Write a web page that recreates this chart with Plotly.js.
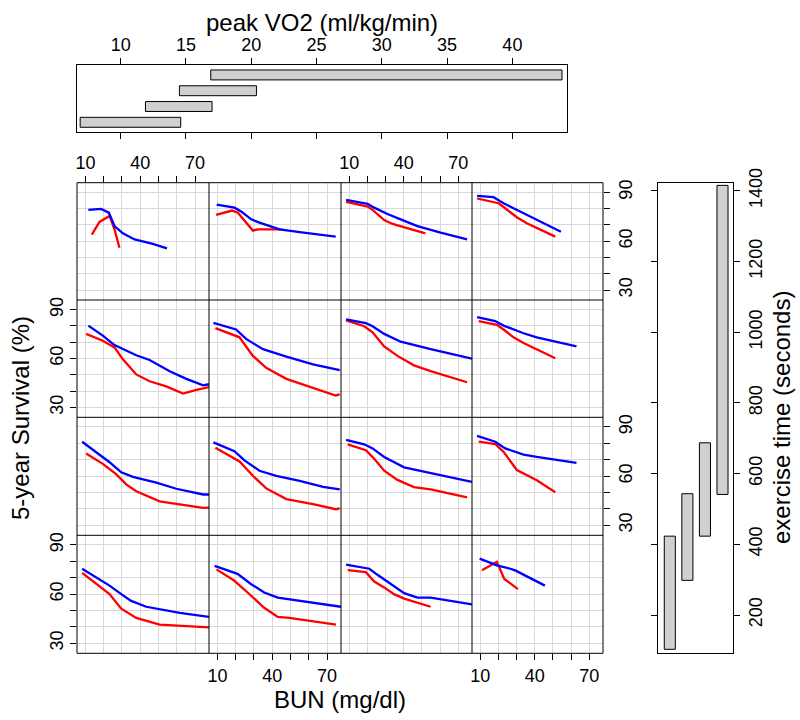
<!DOCTYPE html>
<html><head><meta charset="utf-8">
<script src="https://cdn.plot.ly/plotly-3.0.1.min.js"></script>
<style>html,body{margin:0;padding:0;background:#fff}</style>
</head><body><div id="chart" style="width:800px;height:720px"></div>
<script>
// ---- data: BUN (x) vs 5-year survival (y), panels by row (top=1) and column (left=1)
const r1c1Blue = [[11.6,79.2],[18.6,79.8],[22.8,77.5],[25.9,69.3],[30.5,64.8],[36.9,61.1],[46.9,58.3],[54.6,55.6]];
const r1c1Red  = [[13.5,64],[17.7,71.8],[23.2,75.5],[26,67],[28.6,56]];
const r1c2Blue = [[9.6,82.5],[19.3,80.6],[23,78.2],[28.5,73.4],[33,71.4],[44,67.3],[55,65.6],[74.7,62.8]];
const r1c2Red  = [[9.3,76.1],[18,78.8],[21.2,77.5],[29.4,66.5],[32.1,67.3],[45,67.3]];
const r1c3Blue = [[8.2,85.3],[20.1,82.9],[23.7,80.6],[31,76.7],[38.3,73.4],[47.5,69.3],[60.3,65.2],[74.9,61.1]];
const r1c3Red  = [[8.2,84.1],[20.1,81.2],[22.8,79.2],[29.2,73],[33.8,70.6],[40.2,68.5],[51.9,64.8]];
const r1c4Blue = [[8.2,87.8],[17.3,87],[22.8,83.3],[30.1,79.2],[41.1,73],[54.4,65.8]];
const r1c4Red  = [[8.2,86.2],[20.1,83.3],[23.7,80.2],[30.1,74.7],[35.6,71],[51.3,62.8]];

const r2c1Blue = [[11.6,80.2],[19.5,74],[25.9,68.2],[30.5,65.7],[37.8,62],[45.1,59.1],[56.1,52.2],[65.2,47.5],[74.4,43.5],[77.6,44.2]];
const r2c1Red  = [[10.4,75.1],[19.5,70.9],[25.9,66.8],[30.5,59.5],[37.8,50.2],[45.1,46],[54.2,42.9],[63.4,38.5],[70.7,40.8],[77.6,42.5]];
const r2c2Blue = [[7.8,81.9],[20.2,77.8],[25.7,72],[34.9,65.7],[47.7,61.2],[62.3,56.4],[76.9,52.9]];
const r2c2Red  = [[8.9,78.6],[22.1,73],[29.4,61.6],[36.7,54.3],[47.7,47.5],[62.3,41.9],[74.7,37.3],[76.9,37.9]];
const r2c3Blue = [[8.2,84],[19.1,81.7],[22.8,79.8],[29.2,75.1],[38.3,70.3],[54.8,65.7],[77.6,59.9]];
const r2c3Red  = [[8.2,83.4],[18.2,79.8],[22.8,76.1],[29.2,67.4],[36.5,61.6],[45.6,55.8],[54.8,52.2],[74.9,45.4]];
const r2c4Blue = [[8.2,85.4],[18.2,82.9],[22.8,80.2],[33.8,75.5],[41.1,73],[63,67.4]];
const r2c4Red  = [[9.1,82.9],[19.1,80.7],[22.8,77.8],[28.3,73],[33.8,69.5],[41.1,65.7],[51.3,60.1]];

const r3c1Blue = [[8.2,81],[15.9,74.8],[23.2,68.5],[29.6,62.3],[36,59.6],[48.8,56],[59.7,52.3],[74.4,48.8],[77.6,48.8]];
const r3c1Red  = [[10.4,73.75],[19.5,67.5],[26.8,61.25],[32.3,55],[37.8,50.8],[50.6,44.6],[63.4,42.5],[74.4,40.6],[77.6,40.8]];
const r3c2Blue = [[7.8,80.6],[19.3,75.2],[24.8,69.6],[33,63.3],[42.2,60.2],[55,57.1],[67.8,53.5],[76.9,51.9]];
const r3c2Red  = [[8.9,77.3],[22.1,69],[29.4,60.2],[36.7,52.5],[47.7,46],[62.3,42.9],[74.7,39.8],[76.9,40.4]];
const r3c3Blue = [[8.2,82.1],[18.2,79.4],[22.8,76.9],[29.2,71.7],[40.2,65.4],[54.8,61.9],[77.6,56.5]];
const r3c3Red  = [[9.1,79.4],[19.1,75.8],[23.7,70.6],[29.2,63.3],[36.5,57.7],[45.6,53.3],[54.8,51.9],[74.9,47.1]];
const r3c4Blue = [[8.2,84.6],[18.2,81],[23.7,76.9],[33.8,73.1],[41.1,71.7],[63,68.1]];
const r3c4Red  = [[9.1,81],[18.2,79.6],[22.8,74.8],[30.1,63.75],[41.1,57.5],[51.3,50.2]];

const r4c1Blue = [[8.2,75.5],[14.9,71],[23.2,65.2],[29.6,60],[35,55.9],[43.3,52.3],[50.6,50.7],[61.6,48.6],[77.6,46.1]];
const r4c1Red  = [[8.2,73],[14.9,67.2],[23.2,60],[29.6,51.1],[37.8,45.5],[50.6,41.4],[61.6,40.8],[77.6,39.7]];
const r4c2Blue = [[8.5,77.2],[21,72.4],[28.3,66.2],[35.6,61],[43,57.9],[52,56.5],[63,54.4],[77.6,52.3]];
const r4c2Red  = [[9.5,75.1],[19.1,68.3],[26.5,61],[35.6,51.7],[43,46.1],[49.3,45.5],[74.9,41.4]];
const r4c3Blue = [[8.2,78],[21,75.5],[25.5,71.8],[32.9,66.2],[40.2,60.6],[47.5,57.9],[54.8,57.9],[65.8,55.9],[77.6,53.8]];
const r4c3Red  = [[9.1,74.7],[19.1,73.4],[23.7,67.7],[29.2,64.1],[34.6,60],[40.2,57.3],[54.8,52.3]];
const r4c4Blue = [[9.6,81.7],[19.1,77.6],[26.5,75.5],[29.2,74.5],[45.6,65.2]];
const r4c4Red  = [[10.9,74.5],[19.1,79.7],[23.2,69.3],[30.7,63.1]];

// axis ticks
const bunTicks = [10,20,30,40,50,60,70];
const bunTickText = ['10','','','40','','','70'];
const survTicks = [30,40,50,60,70,80,90];
const survTickText = ['30','','','60','','','90'];

// shingle intervals
const vo2Level = [1,2,3,4];
const vo2Low  = [6.9, 11.9, 14.5, 16.9];
const vo2High = [14.6, 17.0, 20.4, 43.8];
const vo2Ticks = [10,15,20,25,30,35,40];
const exLevel = [1,2,3,4];
const exLow  = [103, 298, 423, 541];
const exHigh = [423, 543, 687, 1415];
const exTicks = [200,400,600,800,1000,1200,1400];

// ---- layout
const W = 800, H = 720;
const colLeft = [77,209,341,472,603];
const rowTop = [182.7,300,417.3,535.3,653.3];
const FONT = 'Liberation Sans, Arial, sans-serif';
const panels = [
  [r1c1Blue,r1c1Red],[r1c2Blue,r1c2Red],[r1c3Blue,r1c3Red],[r1c4Blue,r1c4Red],
  [r2c1Blue,r2c1Red],[r2c2Blue,r2c2Red],[r2c3Blue,r2c3Red],[r2c4Blue,r2c4Red],
  [r3c1Blue,r3c1Red],[r3c2Blue,r3c2Red],[r3c3Blue,r3c3Red],[r3c4Blue,r3c4Red],
  [r4c1Blue,r4c1Red],[r4c2Blue,r4c2Red],[r4c3Blue,r4c3Red],[r4c4Blue,r4c4Red]
];

const traces = [];
const layout = {
  width: W, height: H, margin: {l:0,r:0,t:0,b:0},
  paper_bgcolor: '#fff', plot_bgcolor: '#fff', showlegend: false,
  font: {family: FONT, size: 18, color: '#000'},
  annotations: [], shapes: []
};
function key(a, i){ return i===1 ? a+'axis' : a+'axis'+i; }
function ref(a, i){ return i===1 ? a : a+i; }

for (let r=0; r<4; r++) {
  for (let c=0; c<4; c++) {
    const i = r*4+c+1;
    const [blue, red] = panels[i-1];
    [[red,'rgb(255,0,0)'],[blue,'rgb(0,0,255)']].forEach(([pts,col]) => {
      traces.push({type:'scatter', mode:'lines', x: pts.map(p=>p[0]), y: pts.map(p=>p[1]),
        xaxis: ref('x',i), yaxis: ref('y',i), line:{color:col, width:2.3}, hoverinfo:'skip'});
    });
    const xEdge = (c%2===0 && r===0) || (c%2===1 && r===3);
    const yEdge = (r%2===0 && c===3) || (r%2===1 && c===0);
    layout[key('x',i)] = {
      domain:[colLeft[c]/W, colLeft[c+1]/W], anchor: ref('y',i), range:[5.4,77.6],
      tickmode:'array', tickvals: bunTicks, ticktext: bunTickText,
      showgrid:true, gridcolor:'#d9d9d9', gridwidth:1, zeroline:false,
      showline:false,
      ticks: xEdge ? 'outside' : '', ticklen:6, tickcolor:'#000', tickwidth:1,
      showticklabels: xEdge, side: c%2===0 ? 'top' : 'bottom',
      tickfont:{family:FONT,size:18,color:'#000'}, fixedrange:true
    };
    layout[key('y',i)] = {
      domain:[1-rowTop[r+1]/H, 1-rowTop[r]/H], anchor: ref('x',i), range:[23.9,95.9],
      tickmode:'array', tickvals: survTicks, ticktext: survTickText,
      showgrid:true, gridcolor:'#d9d9d9', gridwidth:1, zeroline:false,
      showline:false,
      ticks: yEdge ? 'outside' : '', ticklen:6, tickcolor:'#000', tickwidth:1,
      showticklabels: yEdge, side: r%2===0 ? 'right' : 'left', tickangle:-90,
      tickfont:{family:FONT,size:18,color:'#000'}, fixedrange:true
    };
  }
}

// panel borders (single thin lines shared between neighbouring panels)
colLeft.forEach(px => layout.shapes.push({type:'line', xref:'paper', yref:'paper',
  x0:px/W, x1:px/W, y0:1-rowTop[4]/H, y1:1-rowTop[0]/H, line:{color:'#000', width:1}}));
rowTop.forEach(py => layout.shapes.push({type:'line', xref:'paper', yref:'paper',
  x0:colLeft[0]/W, x1:colLeft[4]/W, y0:1-py/H, y1:1-py/H, line:{color:'#000', width:1}}));

// top shingle panel (peak VO2)
traces.push({type:'bar', orientation:'h', y: vo2Level, x: vo2High.map((h,k)=>h-vo2Low[k]), base: vo2Low,
  width:0.63, xaxis:'x17', yaxis:'y17', marker:{color:'#d0d0d0', line:{color:'#000', width:1}}, hoverinfo:'skip'});
layout.xaxis17 = {domain:[77.3/W, 566.7/W], anchor:'y17', range:[6.68,44.16],
  tickmode:'array', tickvals: vo2Ticks, side:'top', ticks:'outside', ticklen:6, tickcolor:'#000',
  showline:true, linecolor:'#000', linewidth:1, mirror:'ticks', showgrid:false, zeroline:false,
  tickfont:{family:FONT,size:18,color:'#000'}, fixedrange:true};
layout.yaxis17 = {domain:[1-132/H, 1-65/H], anchor:'x17', range:[0.385,4.63],
  showticklabels:false, ticks:'', showline:true, linecolor:'#000', linewidth:1, mirror:true,
  showgrid:false, zeroline:false, fixedrange:true};

// right shingle panel (exercise time)
traces.push({type:'bar', orientation:'v', x: exLevel, y: exHigh.map((h,k)=>h-exLow[k]), base: exLow,
  width:0.63, xaxis:'x18', yaxis:'y18', marker:{color:'#d0d0d0', line:{color:'#000', width:1}}, hoverinfo:'skip'});
layout.xaxis18 = {domain:[658.3/W, 733.3/W], anchor:'y18', range:[0.345,4.615],
  showticklabels:false, ticks:'', showline:true, linecolor:'#000', linewidth:1, mirror:true,
  showgrid:false, zeroline:false, fixedrange:true};
layout.yaxis18 = {domain:[1-653.3/H, 1-182.7/H], anchor:'x18', range:[91.7,1422.6],
  tickmode:'array', tickvals: exTicks, side:'right', ticks:'outside', ticklen:6, tickcolor:'#000',
  tickangle:-90, showline:true, linecolor:'#000', linewidth:1, mirror:'ticks', showgrid:false, zeroline:false,
  tickfont:{family:FONT,size:18,color:'#000'}, fixedrange:true};

// titles
const tf = {family:FONT, size:24, color:'#000'};
layout.annotations.push(
  {text:'peak VO2 (ml/kg/min)', xref:'paper', yref:'paper', x:322/W, y:1-22/H, showarrow:false, font:tf, xanchor:'center', yanchor:'middle'},
  {text:'BUN (mg/dl)', xref:'paper', yref:'paper', x:340/W, y:1-699/H, showarrow:false, font:tf, xanchor:'center', yanchor:'middle'},
  {text:'5-year Survival (%)', xref:'paper', yref:'paper', x:20/W, y:1-418/H, showarrow:false, font:tf, textangle:-90, xanchor:'center', yanchor:'middle'},
  {text:'exercise time (seconds)', xref:'paper', yref:'paper', x:781/W, y:1-418/H, showarrow:false, font:tf, textangle:-90, xanchor:'center', yanchor:'middle'}
);

Plotly.newPlot('chart', traces, layout, {staticPlot:true, displayModeBar:false});
</script></body></html>
